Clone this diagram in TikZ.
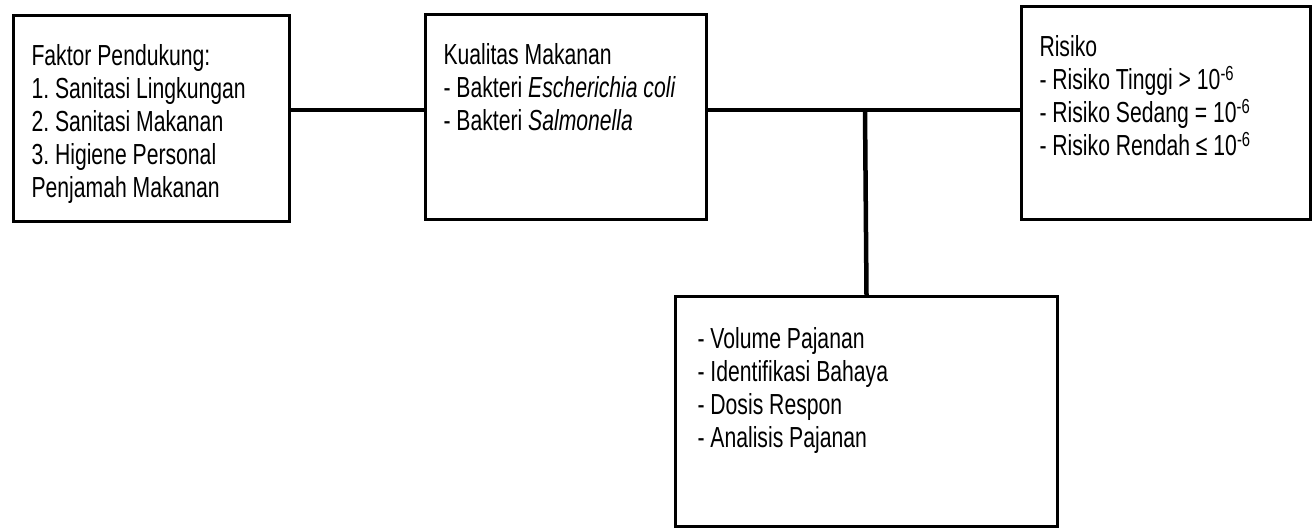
\documentclass[tikz,border=0pt]{standalone}
\usepackage{fontspec}
\setmainfont{Liberation Sans}[FakeStretch=0.73]
\newcommand{\boxtext}[3]{\parbox[t][#1][t]{#2}{\raggedright #3}}
\frenchspacing

\begin{document}
\begin{tikzpicture}[
  x=1pt, y=-1pt,
  box/.style={draw=black, line width=3pt, fill=white, anchor=north west,
              inner xsep=18pt, inner ysep=29pt,
              font=\fontsize{29pt}{33pt}\selectfont},
  conn/.style={line width=4.5pt, color=black}
]
  \useasboundingbox (0,0) rectangle (1312,529);

  \node[box] (fak)  at (12,14)   {\boxtext{148pt}{240pt}{Faktor Pendukung:\\
      1. Sanitasi Lingkungan\\2. Sanitasi Makanan\\3. Higiene Personal\\Penjamah Makanan}};
  \node[box] (kual) at (424,13)  {\boxtext{147pt}{245pt}{Kualitas Makanan\\
      - Bakteri \textit{Escherichia coli}\\- Bakteri \textit{Salmonella}}};
  \node[box] (ris)  at (1020,5)  {\boxtext{155pt}{253pt}{Risiko\\
      - Risiko Tinggi > 10\textsuperscript{-6}\\
      - Risiko Sedang = 10\textsuperscript{-6}\\
      - Risiko Rendah ≤ 10\textsuperscript{-6}}};
  \node[box, inner xsep=22pt, inner ysep=31pt] (pajan) at (674,295)
      {\boxtext{168pt}{338pt}{- Volume Pajanan\\- Identifikasi Bahaya\\
      - Dosis Respon\\- Analisis Pajanan}};

  \coordinate (junc) at (865,110);

  \draw[conn] (fak.east |- junc)  -- (kual.west |- junc);
  \draw[conn] (kual.east |- junc) -- (ris.west |- junc);
  \draw[conn] (junc) -- (pajan.north);
\end{tikzpicture}
\end{document}
